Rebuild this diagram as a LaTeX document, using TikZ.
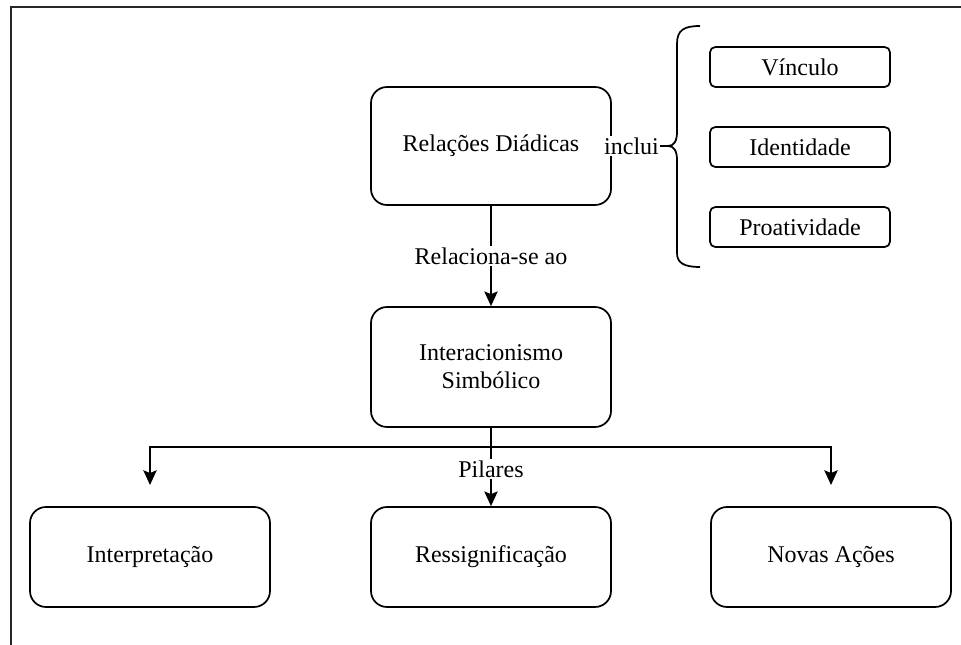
\documentclass[tikz,border=0pt]{standalone}
\usepackage{fontspec}
\setmainfont{Liberation Serif}
\usetikzlibrary{arrows.meta}

\begin{document}
\begin{tikzpicture}[x=0.75pt,y=-0.75pt,line width=1.3pt,
    txt/.style={font=\fontsize{18}{21}\selectfont},
    bigbox/.style={draw,rounded corners=12pt,minimum width=180pt,align=center},
    smallbox/.style={draw,rounded corners=4pt,minimum width=135pt,minimum height=30pt},
    arr/.style={-{Stealth[length=11pt,width=10pt,inset=2pt]}}]

      \useasboundingbox (0,0) rectangle (961,645);
      \draw[line width=1.6pt,black!85] (11,645) -- (11,7) -- (961,7);

      \begin{scope}[every node/.style={txt}]
        \node[bigbox,minimum height=88.5pt] (rd) at (491,146) {Relações Diádicas};
        \node[bigbox,minimum height=90pt]   (is) at (491,367) {Interacionismo\\Simbólico};
        \node[bigbox,minimum height=75pt]   (ip) at (150,557) {Interpretação};
        \node[bigbox,minimum height=75pt]   (rs) at (491,557) {Ressignificação};
        \node[bigbox,minimum height=75pt]   (na) at (831,557) {Novas Ações};
        \node[smallbox] (vi) at (800,67)  {Vínculo};
        \node[smallbox] (id) at (800,147) {Identidade};
        \node[smallbox] (pr) at (800,227) {Proatividade};
      \end{scope}

      \coordinate (tip)   at (668,146);
      \coordinate (split) at (491,447);
      \coordinate (left)  at (150,485);
      \coordinate (right) at (831,485);

      % chave
      \draw (700,26) .. controls (684,26) and (677,30) .. (677,44) -- (677,132)
            .. controls (677,141) and (674,146) .. (tip)
            .. controls (674,146) and (677,151) .. (677,160) -- (677,253)
            .. controls (677,263) and (684,267) .. (700,267);

      \begin{scope}[every node/.style={txt,fill=white,inner sep=1pt}]
        \path (rd.east) edge node[pos=.35] {inclui} (tip);
        \path (rd) edge[arr] node {Relaciona-se ao} (is);
        \draw (is) -- (split);
        \draw[arr] (split) -| (left);
        \draw[arr] (split) -| (right);
        \path (split) edge[arr] node[pos=.37] {Pilares} (rs);
      \end{scope}

    \end{tikzpicture}
\end{document}
